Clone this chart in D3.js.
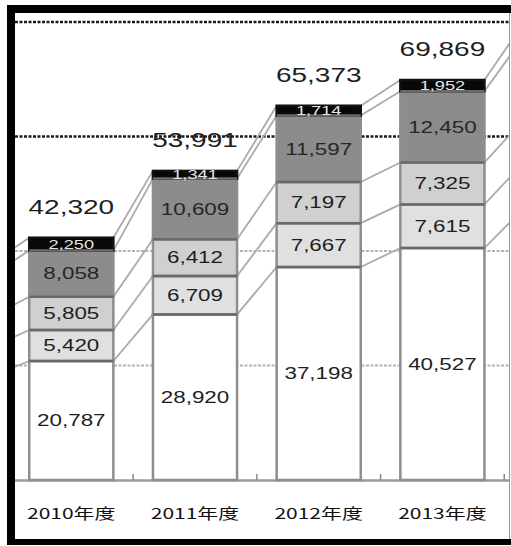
<!DOCTYPE html>
<html>
<head>
<meta charset="utf-8">
<script src="https://cdn.jsdelivr.net/npm/d3@7"></script>
<style>
  html, body { margin: 0; padding: 0; background: #fff; }
  svg { display: block; }
</style>
</head>
<body>
<script>
// ---- data (2009 / 2014 lie outside the crop; estimated from the slopes of the series lines)
const years   = ["2009年度", "2010年度", "2011年度", "2012年度", "2013年度", "2014年度"];
const seg1    = [18000, 20787, 28920, 37198, 40527, 47500];
const seg2    = [5000, 5420, 6709, 7667, 7615, 8000];
const seg3    = [5400, 5805, 6412, 7197, 7325, 7500];
const seg4    = [7200, 8058, 10609, 11597, 12450, 14500];
const seg5    = [2000, 2250, 1341, 1714, 1952, 2500];
const totals  = [37600, 42320, 53991, 65373, 69869, 80000];
const yTicks  = [20000, 40000, 60000, 80000];
const yMax    = 80000;

const W = 511, H = 546;
const fills = ["#ffffff", "#e0e0e0", "#d0d0d0", "#8c8c8c", "#080808"];
const labelColors = ["#1e1e1e", "#1e1e1e", "#1e1e1e", "#262626", "#e6e6e6"];
const SX = 1.4; // horizontal stretch of the original raster text

const svg = d3.select("body").append("svg").attr("width", W).attr("height", H);
svg.append("rect").attr("width", W).attr("height", H).attr("fill", "#fff");

// frame
svg.append("rect").attr("x", 7).attr("y", 5).attr("width", 520).attr("height", 540).attr("fill", "#000");
svg.append("rect").attr("x", 15).attr("y", 13).attr("width", 520).attr("height", 526).attr("fill", "#fff");
svg.append("line").attr("x1", 509.5).attr("x2", 509.5).attr("y1", 13).attr("y2", 539)
   .attr("stroke", "#999").attr("stroke-width", 1);

svg.append("defs").append("clipPath").attr("id", "plotclip")
   .append("rect").attr("x", 15).attr("y", 13).attr("width", 494).attr("height", 526);
const g = svg.append("g").attr("clip-path", "url(#plotclip)");

// scales
const x = d3.scaleBand().domain(years).range([-114.25, 627.95]).paddingInner(0.32).paddingOuter(0.16);
const y = d3.scaleLinear().domain([0, yMax]).range([480, 22]);
const bw = x.bandwidth();
const visible = yr => x(yr) >= 15 && x(yr) + bw <= 509;

// gridlines
g.selectAll("line.grid").data(yTicks).enter().append("line")
  .attr("class", "grid")
  .attr("x1", 15).attr("x2", 510)
  .attr("y1", d => y(d)).attr("y2", d => y(d))
  .attr("stroke", d => d >= 60000 ? "#1a1a1a" : "#b4b4b4")
  .attr("stroke-width", d => d >= 60000 ? 2.5 : 2)
  .attr("stroke-dasharray", "3,1.5");

// stacked data
const rows = years.map((yr, i) => ({ year: yr, s1: seg1[i], s2: seg2[i], s3: seg3[i], s4: seg4[i], s5: seg5[i] }));
const keys = ["s1", "s2", "s3", "s4", "s5"];
const stacked = d3.stack().keys(keys)(rows);

// series lines (connect segment tops between adjacent bars)
stacked.forEach(layer => {
  for (let i = 0; i < layer.length - 1; i++) {
    const a = layer[i], b = layer[i + 1];
    g.append("line")
      .attr("x1", x(a.data.year) + bw).attr("y1", y(a[1]))
      .attr("x2", x(b.data.year)).attr("y2", y(b[1]))
      .attr("stroke", "#aaaaaa").attr("stroke-width", 1.8);
  }
});

// baseline
g.append("line").attr("x1", 15).attr("x2", 510).attr("y1", 480.5).attr("y2", 480.5)
  .attr("stroke", "#9a9a9a").attr("stroke-width", 2.5);
// inside tick marks at category boundaries
const step = x.step();
g.selectAll("line.tick").data(years).enter().append("line")
  .attr("x1", d => x(d) + bw + (step - bw) / 2).attr("x2", d => x(d) + bw + (step - bw) / 2)
  .attr("y1", 474).attr("y2", 480)
  .attr("stroke", "#8a8a8a").attr("stroke-width", 1.5);

// bars
stacked.forEach((layer, k) => {
  g.selectAll("rect.s" + k).data(layer).enter().append("rect")
    .attr("x", d => x(d.data.year))
    .attr("y", d => y(d[1]))
    .attr("width", bw)
    .attr("height", d => y(d[0]) - y(d[1]))
    .attr("fill", fills[k])
    .attr("stroke", k === 4 ? "#111" : "#8e8e8e")
    .attr("stroke-width", 2.5);
});
// darker separators on segment tops
stacked.forEach((layer, k) => {
  if (k === 4) return;
  g.selectAll("line.sep" + k).data(layer).enter().append("line")
    .attr("x1", d => x(d.data.year)).attr("x2", d => x(d.data.year) + bw)
    .attr("y1", d => y(d[1])).attr("y2", d => y(d[1]))
    .attr("stroke", "#6a6a6a").attr("stroke-width", 2.5);
});

// segment labels (only for categories inside the crop)
const fmt = d3.format(",");
stacked.forEach((layer, k) => {
  const fs = k === 4 ? 13 : 16;
  g.selectAll("g.lab" + k).data(layer.filter(d => visible(d.data.year))).enter().append("g")
    .attr("transform", d => `translate(${x(d.data.year) + bw / 2},${(y(d[0]) + y(d[1])) / 2 + fs * 0.36}) scale(${SX},1)`)
    .append("text")
    .attr("text-anchor", "middle")
    .attr("font-family", "Liberation Sans, Arial, sans-serif")
    .attr("font-size", fs)
    .attr("fill", labelColors[k])
    .text(d => fmt(d[1] - d[0]));
});

// total labels
const idx = years.map((d, i) => i).filter(i => visible(years[i]));
g.selectAll("g.tot").data(idx).enter().append("g")
  .attr("transform", i => `translate(${x(years[i]) + bw / 2},${y(totals[i]) - 24}) scale(${SX},1)`)
  .append("text")
  .attr("text-anchor", "middle")
  .attr("font-family", "Liberation Sans, Arial, sans-serif")
  .attr("font-size", 20)
  .attr("fill", "#1e1e1e")
  .text(i => fmt(totals[i]));

// category labels
g.selectAll("g.cat").data(years.filter(visible)).enter().append("g")
  .attr("transform", d => `translate(${x(d) + bw / 2},519) scale(${SX},1)`)
  .append("text")
  .attr("text-anchor", "middle")
  .attr("font-family", "Noto Sans CJK JP, sans-serif")
  .attr("font-size", 15)
  .attr("fill", "#111")
  .text(d => d);
</script>
</body>
</html>
